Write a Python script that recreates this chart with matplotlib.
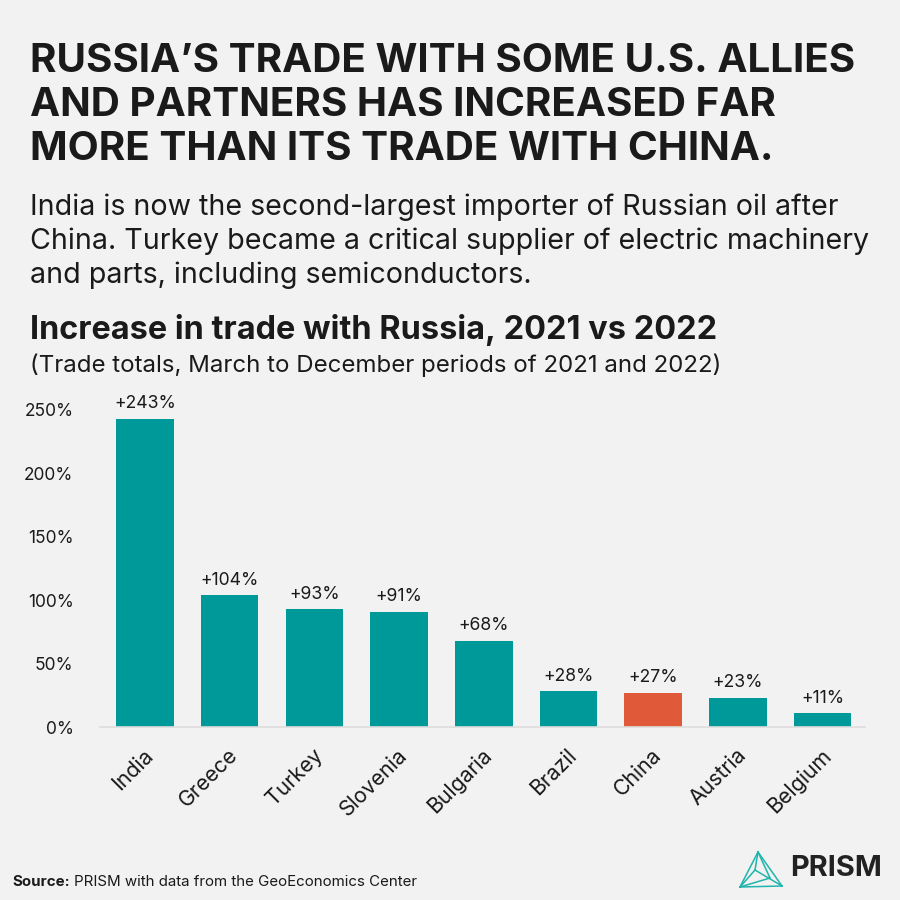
import matplotlib
matplotlib.use("Agg")
import matplotlib.pyplot as plt
from matplotlib.lines import Line2D
import matplotlib.transforms as mtransforms

FONT = ['Inter', 'DejaVu Sans']
plt.rcParams['font.family'] = FONT

countries = ["India", "Greece", "Turkey", "Slovenia", "Bulgaria", "Brazil", "China", "Austria", "Belgium"]
increase = [243, 104, 93, 91, 68, 28, 27, 23, 11]
highlight = "China"
yticks = [0, 50, 100, 150, 200, 250]
ytick_labels = ["0%", "50%", "100%", "150%", "200%", "250%"]

BG = "#f2f2f2"
TEAL = "#009999"
ORANGE = "#e05a3a"
TXT = "#1a1a1a"

fig = plt.figure(figsize=(9, 9), dpi=100, facecolor=BG)
renderer = fig.canvas.get_renderer()

def fit_size(s, target_px, weight="normal"):
    t = fig.text(0, 0, s, fontsize=20, fontweight=weight)
    w = t.get_window_extent(renderer).width
    t.remove()
    return 20 * target_px / w

ax = fig.add_axes([100/900, 1-727/900, 765/900, (727-397)/900])
ax.set_facecolor(BG)

lbl_fs = fit_size("+243%", 62)
tick_fs = fit_size("250%", 49)
xl_fs = fit_size("Belgium", 81)

colors = [ORANGE if c == highlight else TEAL for c in countries]
x = list(range(len(countries)))
ax.bar(x, increase, width=0.68, color=colors, zorder=2)
for xi, v in zip(x, increase):
    ax.text(xi, v + 5, f"+{v}%", ha="center", va="bottom", fontsize=lbl_fs, color=TXT)

ax.set_xlim(-0.53, 8.5)
ax.set_ylim(0, 260)
ax.set_yticks(yticks)
ax.set_yticklabels(ytick_labels, fontsize=tick_fs, color=TXT)
ax.set_xticks(x)
ax.set_xticklabels(countries, rotation=45, ha="right", rotation_mode="anchor", fontsize=xl_fs, color=TXT)
ax.tick_params(axis="both", length=0)
ax.tick_params(axis="y", pad=19)
ax.tick_params(axis="x", pad=13)
offset = mtransforms.ScaledTranslation(-2/100, 0, fig.dpi_scale_trans)
for lab in ax.get_xticklabels():
    lab.set_transform(lab.get_transform() + offset)
for s in ["top", "right", "left"]:
    ax.spines[s].set_visible(False)
ax.spines["bottom"].set_color("#dddddd")
ax.spines["bottom"].set_linewidth(1.2)

# Titles
title_lines = ["RUSSIA\u2019S TRADE WITH SOME U.S. ALLIES",
               "AND PARTNERS HAS INCREASED FAR",
               "MORE THAN ITS TRADE WITH CHINA."]
t_fs = fit_size(title_lines[0], 827, "bold")
for i, line in enumerate(title_lines):
    fig.text(30/900, 1-(62+44*i)/900, line, fontsize=t_fs, fontweight="bold", color=TXT, va="center", ha="left")

sub_lines = ["India is now the second-largest importer of Russian oil after",
             "China. Turkey became a critical supplier of electric machinery",
             "and parts, including semiconductors."]
s_fs = fit_size(sub_lines[1], 836)
for i, line in enumerate(sub_lines):
    fig.text(30/900, 1-(207+34*i)/900, line, fontsize=s_fs, color=TXT, va="center", ha="left")

ct = "Increase in trade with Russia, 2021 vs 2022"
fig.text(30/900, 1-330/900, ct, fontsize=fit_size(ct, 688, "bold"), fontweight="bold", color=TXT, va="center")
cs = "(Trade totals, March to December periods of 2021 and 2022)"
fig.text(30/900, 1-365/900, cs, fontsize=fit_size(cs, 692), color=TXT, va="center")

src_fs = fit_size("Source: PRISM with data from the GeoEconomics Center", 403)
t1 = fig.text(12/900, 1-882/900, "Source:", fontsize=src_fs, fontweight="bold", color=TXT, va="center")
w1 = t1.get_window_extent(renderer).width
fig.text((12 + w1 + 4)/900, 1-882/900, "PRISM with data from the GeoEconomics Center", fontsize=src_fs, color=TXT, va="center")

# Logo
fig.text(790/900, 1-868/900, "PRISM", fontsize=fit_size("PRISM", 92, "bold"), fontweight="bold", color="#222222", va="center")
lc = "#1fb5ac"
pts = {"top": (758, 852), "bl": (740, 887), "br": (782, 886), "in": (755, 870), "m": (770, 878)}
def P(p):
    return (p[0]/900, 1-p[1]/900)
segs = [("top", "bl"), ("bl", "br"), ("br", "top"), ("top", "in"), ("in", "br"), ("in", "bl"), ("bl", "m"), ("top", "m")]
for a, b in segs:
    fig.add_artist(Line2D([P(pts[a])[0], P(pts[b])[0]], [P(pts[a])[1], P(pts[b])[1]], color=lc, lw=1.1, transform=fig.transFigure))

fig.savefig("out.png", dpi=100, facecolor=BG)
